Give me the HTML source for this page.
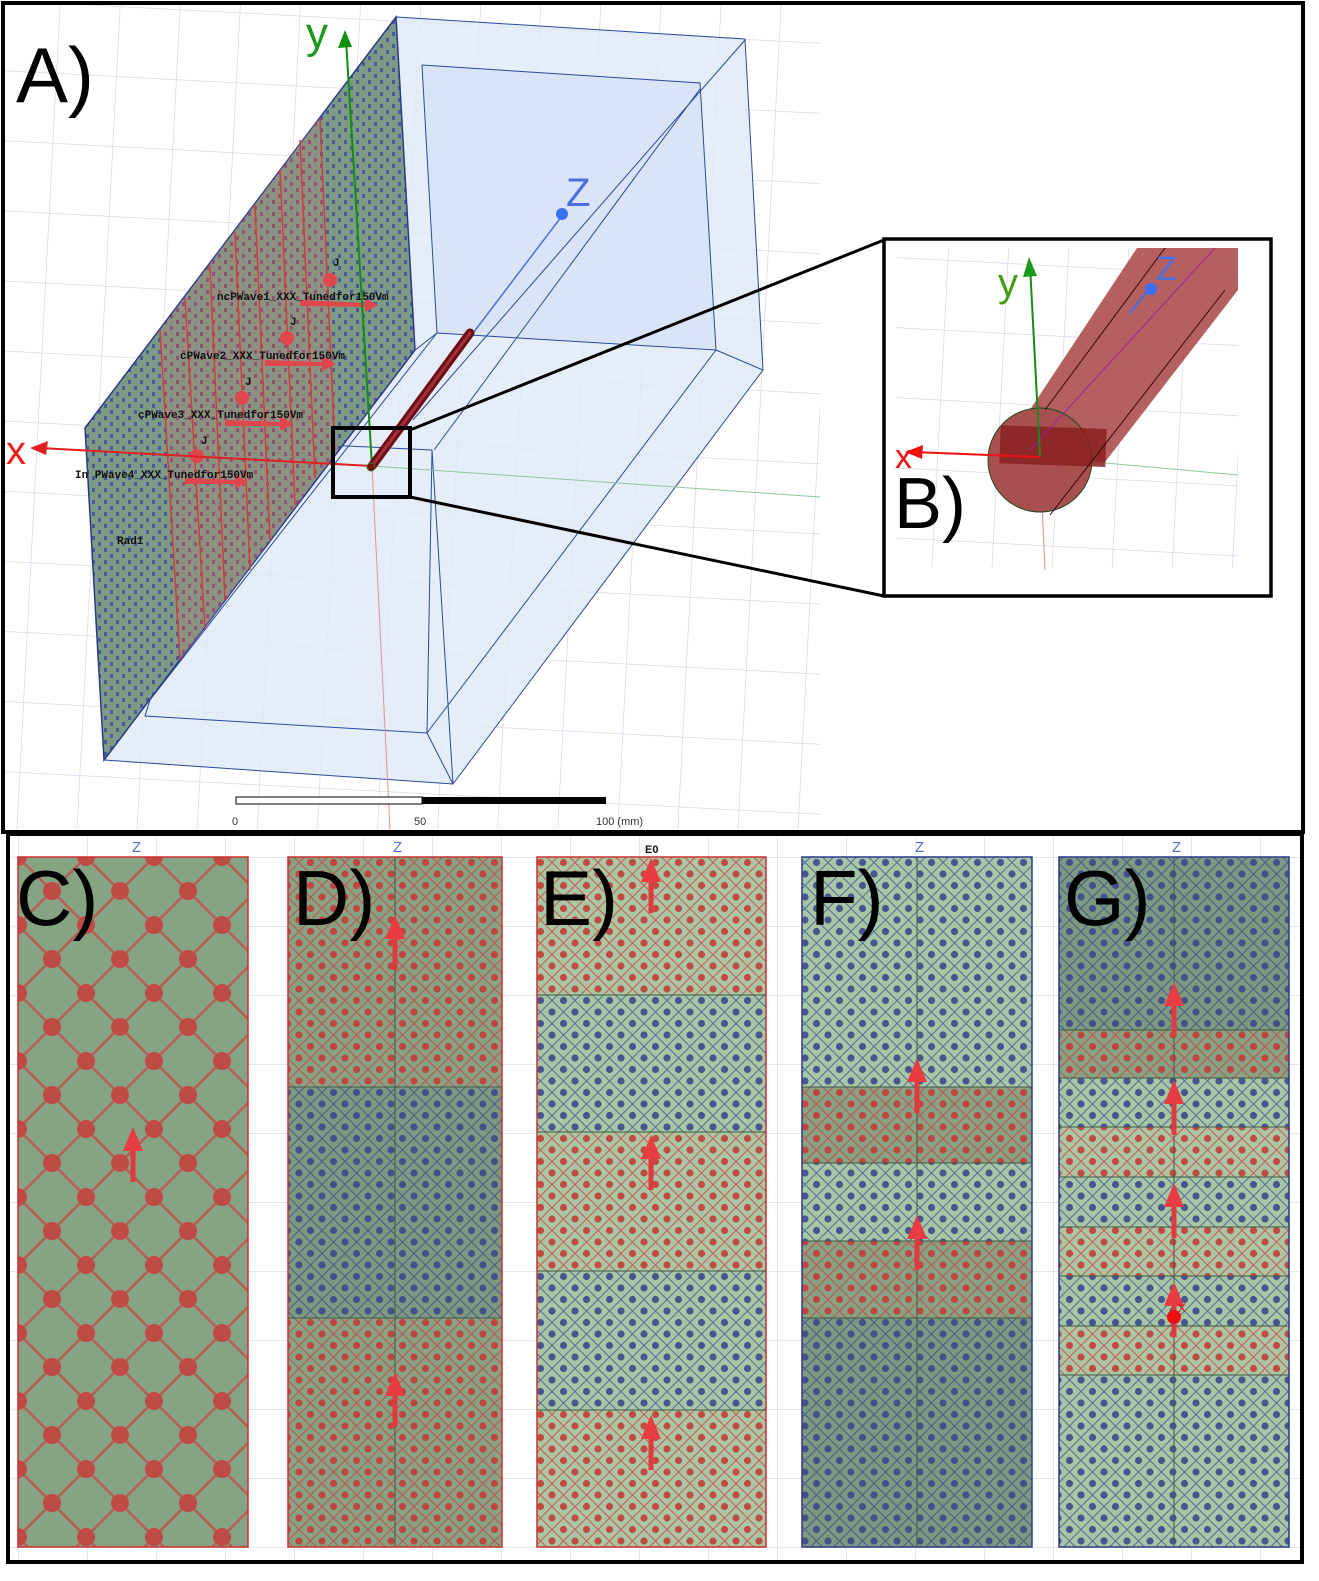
<!DOCTYPE html>
<html><head><meta charset="utf-8"><style>
html,body{margin:0;padding:0;background:#fff}
svg{display:block}
text{font-family:"Liberation Sans",sans-serif}
.mono{font-family:"Liberation Mono",monospace;font-weight:bold;font-size:11px;fill:#111}
</style></head><body>
<svg width="1319" height="1581" viewBox="0 0 1319 1581" xmlns="http://www.w3.org/2000/svg">
<defs>
<pattern id="grid" width="60" height="70" patternUnits="userSpaceOnUse" patternTransform="rotate(3)">
<path d="M0 0H60M0 0V70" stroke="#cfcfe6" stroke-width="1.2" fill="none"/>
</pattern>
<pattern id="gridB" width="69" height="69" patternUnits="userSpaceOnUse" x="18" y="857">
<path d="M0 0H69M0 0V69" stroke="#d4d4ea" stroke-width="1.2" fill="none"/>
</pattern>
<pattern id="pc" width="68" height="68" patternUnits="userSpaceOnUse" x="18" y="857">
<rect width="68" height="68" fill="#86a384"/>
<path d="M0 0L34 34L68 0M0 68L34 34L68 68" stroke="#c4504a" stroke-width="2.5" fill="none" opacity=".85"/>
<circle cx="0" cy="0" r="9" fill="#bf4b45"/><circle cx="68" cy="0" r="9" fill="#bf4b45"/>
<circle cx="0" cy="68" r="9" fill="#bf4b45"/><circle cx="68" cy="68" r="9" fill="#bf4b45"/>
<circle cx="34" cy="34" r="9" fill="#bf4b45"/>
</pattern>
<pattern id="rd" width="23" height="23" patternUnits="userSpaceOnUse">
<rect width="23" height="23" fill="#86a384"/>
<path d="M0 11.5L11.5 0L23 11.5L11.5 23Z" stroke="#c4504a" stroke-width="1" fill="none"/>
<circle cx="0" cy="0" r="3.6" fill="#c0443f"/><circle cx="23" cy="0" r="3.6" fill="#c0443f"/>
<circle cx="0" cy="23" r="3.6" fill="#c0443f"/><circle cx="23" cy="23" r="3.6" fill="#c0443f"/>
<circle cx="11.5" cy="11.5" r="3.6" fill="#c0443f"/>
</pattern>
<pattern id="rl" width="23" height="23" patternUnits="userSpaceOnUse">
<rect width="23" height="23" fill="#a8c7a2"/>
<path d="M0 11.5L11.5 0L23 11.5L11.5 23Z" stroke="#cc5a52" stroke-width="1" fill="none"/>
<circle cx="0" cy="0" r="3.6" fill="#c24a44"/><circle cx="23" cy="0" r="3.6" fill="#c24a44"/>
<circle cx="0" cy="23" r="3.6" fill="#c24a44"/><circle cx="23" cy="23" r="3.6" fill="#c24a44"/>
<circle cx="11.5" cy="11.5" r="3.6" fill="#c24a44"/>
</pattern>
<pattern id="bd" width="23" height="23" patternUnits="userSpaceOnUse">
<rect width="23" height="23" fill="#7d9a80"/>
<path d="M0 11.5L11.5 0L23 11.5L11.5 23Z" stroke="#4a5a8c" stroke-width="1" fill="none"/>
<circle cx="0" cy="0" r="3.6" fill="#44508a"/><circle cx="23" cy="0" r="3.6" fill="#44508a"/>
<circle cx="0" cy="23" r="3.6" fill="#44508a"/><circle cx="23" cy="23" r="3.6" fill="#44508a"/>
<circle cx="11.5" cy="11.5" r="3.6" fill="#44508a"/>
</pattern>
<pattern id="bl" width="23" height="23" patternUnits="userSpaceOnUse">
<rect width="23" height="23" fill="#a6c6a4"/>
<path d="M0 11.5L11.5 0L23 11.5L11.5 23Z" stroke="#5a6a9a" stroke-width="1" fill="none"/>
<circle cx="0" cy="0" r="3.6" fill="#4a5590"/><circle cx="23" cy="0" r="3.6" fill="#4a5590"/>
<circle cx="0" cy="23" r="3.6" fill="#4a5590"/><circle cx="23" cy="23" r="3.6" fill="#4a5590"/>
<circle cx="11.5" cy="11.5" r="3.6" fill="#4a5590"/>
</pattern>
<pattern id="slab" width="12" height="12" patternUnits="userSpaceOnUse">
<rect width="12" height="12" fill="#7d9a84"/>
<rect x="2" y="2" width="3" height="4" fill="#4a5a9a"/><rect x="8" y="8" width="3" height="4" fill="#4a5a9a"/>
</pattern>
<pattern id="slabr" width="12" height="12" patternUnits="userSpaceOnUse">
<rect width="12" height="12" fill="#9a8a80"/>
<rect x="2" y="2" width="3" height="4" fill="#d0524e"/><rect x="8" y="8" width="3" height="4" fill="#d0524e"/>
</pattern>
<g id="arr"><rect x="-2.5" y="0" width="5" height="45" fill="#e03a40"/><path d="M-10 14L0 -10L10 14Z" fill="#e63c42"/></g>
</defs>

<!-- TOP PANEL -->
<rect x="3" y="3" width="1300" height="829" fill="#fff"/>
<rect x="5" y="5" width="815" height="825" fill="url(#grid)"/>
<!-- box -->
<polygon points="396,17 745,39 763,370 453,784 104,760 85,428" fill="#dfe8f8" opacity=".8"/>
<polygon points="422,65 700,83 716,350 437,333" fill="#d6e1f6" opacity=".8"/>
<g stroke="#2a4a9a" stroke-width="1" fill="none">
<polyline points="396,17 745,39 763,370 453,784 104,760"/>
<polyline points="422,65 700,83 716,350 437,333 422,65"/>
<line x1="700" y1="89" x2="434" y2="450"/>
<line x1="745" y1="40" x2="413" y2="420"/>
<line x1="716" y1="350" x2="763" y2="370"/>
<line x1="437" y1="333" x2="400" y2="362"/>
<polyline points="432,450 427,733 145,716 150,700"/>
<line x1="427" y1="733" x2="716" y2="350"/>
<line x1="427" y1="733" x2="453" y2="784"/>
<line x1="432" y1="450" x2="453" y2="784"/>
<line x1="130" y1="436" x2="432" y2="450"/>
</g>
<!-- slab -->
<polygon points="85,428 396,17 415,350 104,760" fill="url(#slab)" stroke="#2a3a8a" stroke-width="1.5"/>
<polygon points="160,330 318,120 338,450 180,660" fill="url(#slabr)" opacity=".5"/>
<g stroke="#d83a3a" stroke-width="1.5">
<line x1="160" y1="330" x2="180" y2="660"/><line x1="185" y1="298" x2="205" y2="630"/>
<line x1="210" y1="265" x2="225" y2="600"/><line x1="235" y1="232" x2="250" y2="570"/>
<line x1="255" y1="205" x2="270" y2="540"/><line x1="280" y1="170" x2="295" y2="505"/>
<line x1="300" y1="140" x2="315" y2="478"/><line x1="320" y1="118" x2="335" y2="450"/>
</g>
<line x1="150" y1="700" x2="437" y2="333" stroke="#2a4a9a"/>
<!-- wave arrows -->
<g fill="#e0474d">
<path d="M300 300L365 303L365 298L378 305L365 312L365 307L300 306Z"/>
<path d="M265 360L322 362L322 356L336 364L322 371L322 366L265 366Z"/>
<path d="M225 420L280 422L280 416L293 424L280 431L280 426L225 426Z"/>
<path d="M185 478L235 480L235 474L248 482L235 489L235 484L185 484Z"/>
<circle cx="330" cy="280" r="7"/><circle cx="287" cy="338" r="7"/><circle cx="242" cy="398" r="7"/><circle cx="197" cy="456" r="7"/>
</g>
<text class="mono" x="217" y="300">ncPWave1_XXX_Tunedfor150Vm</text>
<text class="mono" x="180" y="359">cPWave2_XXX_Tunedfor150Vm</text>
<text class="mono" x="138" y="418">cPWave3_XXX_Tunedfor150Vm</text>
<text class="mono" x="75" y="478">In PWave4_XXX_Tunedfor150Vm</text>
<text class="mono" x="333" y="266">J</text><text class="mono" x="290" y="325">J</text>
<text class="mono" x="245" y="385">J</text><text class="mono" x="201" y="444">J</text>
<text class="mono" x="117" y="544">Rad1</text>
<!-- axes -->
<line x1="372" y1="466" x2="390" y2="830" stroke="#e89090" stroke-width="1"/>
<line x1="372" y1="466" x2="820" y2="497" stroke="#8fc79a" stroke-width="1"/>
<line x1="372" y1="466" x2="40" y2="448" stroke="#e02020" stroke-width="2"/>
<path d="M30 448L48 441L46 455Z" fill="#e02020"/>
<text x="6" y="464" font-size="40" fill="#ee1c1c">x</text>
<line x1="372" y1="466" x2="346" y2="40" stroke="#109010" stroke-width="2"/>
<path d="M345 30L338 48L352 47Z" fill="#109010"/>
<text x="306" y="48" font-size="44" fill="#1a9a1a">y</text>
<line x1="372" y1="466" x2="565" y2="212" stroke="#4a70e0" stroke-width="1.5"/>
<circle cx="562" cy="214" r="6" fill="#3a70f0"/>
<text x="566" y="206" font-size="40" fill="#4a70e0">Z</text>
<line x1="372" y1="466" x2="470" y2="333" stroke="#6e0f18" stroke-width="9" stroke-linecap="round"/>
<line x1="372" y1="466" x2="470" y2="333" stroke="#a0303a" stroke-width="3" stroke-linecap="round"/>
<circle cx="371" cy="467" r="4" fill="#7a1010" stroke="#227722"/>
<text x="16" y="102" font-size="78" fill="#000">A)</text>
<!-- zoom box and lines -->
<rect x="333" y="428" width="77" height="69" fill="none" stroke="#000" stroke-width="4"/>
<line x1="410" y1="430" x2="884" y2="240" stroke="#000" stroke-width="3"/>
<line x1="410" y1="497" x2="884" y2="596" stroke="#000" stroke-width="3"/>
<!-- scale bar -->
<rect x="236" y="797" width="186" height="7" fill="#fff" stroke="#000"/>
<rect x="422" y="797" width="184" height="7" fill="#000"/>
<text x="232" y="825" font-size="11" fill="#333">0</text>
<text x="414" y="825" font-size="11" fill="#333">50</text>
<text x="596" y="825" font-size="11" fill="#333">100 (mm)</text>
<!-- inset B -->
<rect x="884" y="239" width="387" height="357" fill="#fff"/>
<rect x="896" y="248" width="342" height="320" fill="url(#grid)"/>
<line x1="1040" y1="457" x2="1238" y2="475" stroke="#8fc79a"/>
<line x1="1040" y1="457" x2="1045" y2="570" stroke="#e08a8a"/>
<polygon points="1137,248 1238,248 1238,290 1105,462 1000,455" fill="#a84444" opacity=".85"/>
<circle cx="1040" cy="460" r="52" fill="#a85050" stroke="#1a4a1a" stroke-width="1"/>
<rect x="1000" y="427" width="106" height="38" fill="#8a2020" opacity=".85" transform="rotate(2 1050 446)"/>
<g stroke="#3a0808" stroke-width="1"><line x1="1045" y1="410" x2="1165" y2="248"/><line x1="1050" y1="515" x2="1225" y2="290"/><line x1="1030" y1="450" x2="1215" y2="248" stroke="#a020a0"/></g>
<line x1="1040" y1="457" x2="1030" y2="265" stroke="#1a8a1a" stroke-width="2"/>
<path d="M1029 257L1023 277L1037 276Z" fill="#1a9a1a"/>
<text x="998" y="296" font-size="40" fill="#4a9a1a">y</text>
<line x1="1040" y1="457" x2="913" y2="452" stroke="#ee1010" stroke-width="2"/>
<path d="M905 452L923 445L922 459Z" fill="#ee1010"/>
<text x="895" y="468" font-size="34" fill="#ee1010">x</text>
<line x1="1130" y1="313" x2="1152" y2="285" stroke="#3a70f0" stroke-width="2"/>
<circle cx="1151" cy="289" r="6" fill="#3a70f0"/>
<text x="1156" y="280" font-size="34" fill="#4a70e0">Z</text>
<text x="894" y="528" font-size="72" fill="#000">B)</text>
<rect x="884" y="239" width="387" height="357" fill="none" stroke="#000" stroke-width="3.5"/>
<rect x="3" y="3" width="1300" height="829" fill="none" stroke="#000" stroke-width="4"/>

<!-- BOTTOM PANEL -->
<rect x="8" y="834" width="1294" height="728" fill="url(#gridB)"/>
<rect x="18" y="857" width="230" height="690" fill="url(#pc)" stroke="#c83030" stroke-width="1.5"/>
<use href="#arr" x="133" y="1137"/>
<rect x="288" y="857" width="214" height="230" fill="url(#rd)"/>
<rect x="288" y="1087" width="214" height="231" fill="url(#bd)"/>
<rect x="288" y="1318" width="214" height="229" fill="url(#rd)"/>
<rect x="537" y="857" width="229" height="138" fill="url(#rl)"/>
<rect x="537" y="995" width="229" height="137" fill="url(#bl)"/>
<rect x="537" y="1132" width="229" height="139" fill="url(#rl)"/>
<rect x="537" y="1271" width="229" height="139" fill="url(#bl)"/>
<rect x="537" y="1410" width="229" height="137" fill="url(#rl)"/>
<rect x="802" y="857" width="230" height="230" fill="url(#bl)"/>
<rect x="802" y="1087" width="230" height="76" fill="url(#rd)"/>
<rect x="802" y="1163" width="230" height="78" fill="url(#bl)"/>
<rect x="802" y="1241" width="230" height="77" fill="url(#rd)"/>
<rect x="802" y="1318" width="230" height="229" fill="url(#bd)"/>
<rect x="1059" y="857" width="230" height="173" fill="url(#bd)"/>
<rect x="1059" y="1030" width="230" height="48" fill="url(#rd)"/>
<rect x="1059" y="1078" width="230" height="49" fill="url(#bl)"/>
<rect x="1059" y="1127" width="230" height="50" fill="url(#rl)"/>
<rect x="1059" y="1177" width="230" height="50" fill="url(#bl)"/>
<rect x="1059" y="1227" width="230" height="49" fill="url(#rl)"/>
<rect x="1059" y="1276" width="230" height="50" fill="url(#bl)"/>
<rect x="1059" y="1326" width="230" height="49" fill="url(#rl)"/>
<rect x="1059" y="1375" width="230" height="172" fill="url(#bl)"/>
<g stroke="#3e5a44" stroke-width="1" fill="none">
<line x1="288" y1="1087" x2="502" y2="1087"/><line x1="288" y1="1318" x2="502" y2="1318"/>
<line x1="537" y1="995" x2="766" y2="995"/><line x1="537" y1="1132" x2="766" y2="1132"/><line x1="537" y1="1271" x2="766" y2="1271"/><line x1="537" y1="1410" x2="766" y2="1410"/>
<line x1="802" y1="1087" x2="1032" y2="1087"/><line x1="802" y1="1163" x2="1032" y2="1163"/><line x1="802" y1="1241" x2="1032" y2="1241"/><line x1="802" y1="1318" x2="1032" y2="1318"/>
<line x1="1059" y1="1030" x2="1289" y2="1030"/><line x1="1059" y1="1078" x2="1289" y2="1078"/><line x1="1059" y1="1127" x2="1289" y2="1127"/><line x1="1059" y1="1177" x2="1289" y2="1177"/><line x1="1059" y1="1227" x2="1289" y2="1227"/><line x1="1059" y1="1276" x2="1289" y2="1276"/><line x1="1059" y1="1326" x2="1289" y2="1326"/><line x1="1059" y1="1375" x2="1289" y2="1375"/>
<line x1="395" y1="857" x2="395" y2="1547"/><line x1="917" y1="857" x2="917" y2="1547"/><line x1="1174" y1="857" x2="1174" y2="1547"/>
</g>
<rect x="288" y="857" width="214" height="690" fill="none" stroke="#c83030" stroke-width="1.5"/>
<rect x="537" y="857" width="229" height="690" fill="none" stroke="#c83030" stroke-width="1.5"/>
<rect x="802" y="857" width="230" height="690" fill="none" stroke="#2a3a8a" stroke-width="1.5"/>
<rect x="1059" y="857" width="230" height="690" fill="none" stroke="#2a3a8a" stroke-width="1.5"/>
<use href="#arr" x="395" y="925"/><use href="#arr" x="395" y="1382"/>
<use href="#arr" x="651" y="868"/><use href="#arr" x="651" y="1145"/><use href="#arr" x="651" y="1425"/>
<use href="#arr" x="917" y="1068"/><use href="#arr" x="917" y="1225"/>
<use href="#arr" x="1174" y="992"/><use href="#arr" x="1174" y="1090"/><use href="#arr" x="1174" y="1193"/><use href="#arr" x="1174" y="1292"/>
<circle cx="1174" cy="1317" r="7" fill="#ee1010"/>
<text x="1178" y="1312" font-size="12" fill="#ee1010">X</text>
<g fill="#4a70e0" font-size="15">
<text x="132" y="852">Z</text><text x="393" y="852">Z</text><text x="915" y="852">Z</text><text x="1172" y="852">Z</text>
</g>
<text x="645" y="853" font-size="11" font-weight="bold" fill="#111">E0</text>
<g font-size="78" fill="#000">
<text x="16" y="925">C)</text><text x="293" y="925">D)</text><text x="540" y="925">E)</text><text x="810" y="925">F)</text><text x="1064" y="925">G)</text>
</g>
<rect x="8" y="834" width="1294" height="728" fill="none" stroke="#000" stroke-width="4"/>
</svg>
</body></html>
